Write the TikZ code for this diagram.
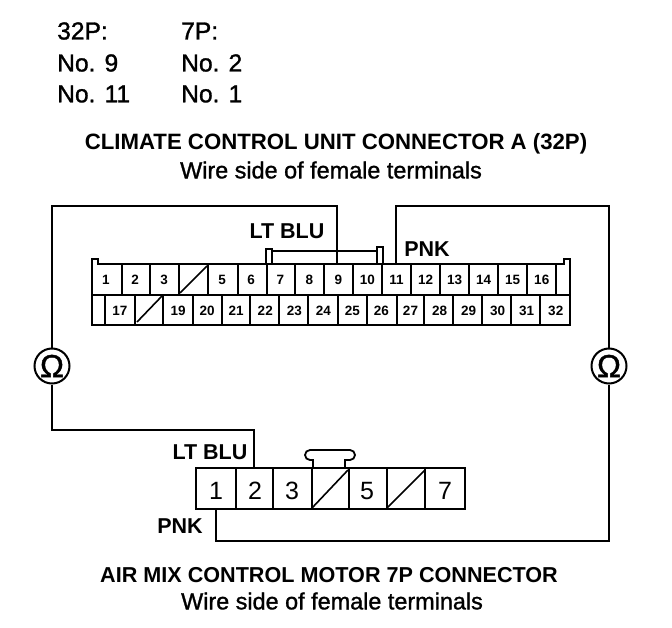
\documentclass[tikz,border=0pt]{standalone}
\usepackage{fontspec}
\setmainfont{Liberation Sans}
\newfontfamily\scanfont[FakeBold=1.2]{Liberation Sans}
\tikzset{
  wire/.style={line width=1.6pt},
  shell/.style={line width=2.8pt},
  divider/.style={line width=2.4pt},
  thindiv/.style={line width=1.6pt},
  pinsmall/.style={inner sep=0pt, anchor=base, font=\fontsize{13.5}{13.5}\selectfont\bfseries},
  pinlarge/.style={inner sep=0pt, anchor=base, font=\fontsize{25}{25}\selectfont},
  colorlabel/.style={inner sep=0pt, font=\fontsize{21.5}{21.5}\selectfont\bfseries},
  heading/.style={inner sep=0pt, font=\fontsize{22.2}{22.2}\selectfont\bfseries},
  headingsmall/.style={inner sep=0pt, font=\fontsize{21.6}{21.6}\selectfont\bfseries},
  subheading/.style={inner sep=0pt, font=\fontsize{23.4}{23.4}\scanfont},
  listing/.style={inner sep=0pt, anchor=west, font=\fontsize{24.6}{24.6}\scanfont},
  meter/.style={draw, circle, line width=2pt, minimum size=35pt, inner sep=0pt, font=\fontsize{32}{32}\scanfont}
}
\begin{document}
\begin{tikzpicture}[x=1pt, y=-1pt]
  \fill[white] (0,0) rectangle (672,628);
  % terminal list
  \node[listing] (headA) at (57,31) {32P:};
  \node[listing] (headB) at (181,31) {7P:};
  \node[listing] (rowAa) at (57,63) {No. 9};
  \node[listing] (rowBa) at (181,63) {No. 2};
  \node[listing] (rowAb) at (57,94) {No. 11};
  \node[listing] (rowBb) at (181,94) {No. 1};
  % headings
  \node[heading] (titleA) at (336,144) {CLIMATE CONTROL UNIT CONNECTOR A (32P)};
  \node[subheading] (subA) at (331,170) {Wire side of female terminals};
  \node[headingsmall] (titleB) at (329,575) {AIR MIX CONTROL MOTOR 7P CONNECTOR};
  \node[subheading] (subB) at (332,601) {Wire side of female terminals};
  % 32P connector
  \draw[shell] (92,325) -- (92,259) -- (98,259) -- (98,264) -- (564,264) -- (564,259) -- (570,259) -- (570,325) -- cycle;
  \draw[shell] (92,295) -- (570,295);
  \draw[line width=1.8pt] (266,264) -- (266,249) -- (272,249) -- (272,264);
  \draw[line width=1.8pt] (272,251) -- (377,251) -- (377,264);
  \draw[line width=1.8pt] (377,264) -- (377,247) -- (383,247) -- (383,264);
  \foreach \x in {122,150,179,208,238,267,295,324,353,382,411,440,469,498,527,556}
    \draw[divider] (\x,264) -- (\x,295);
  \foreach \x in {105,135,163,193,222,250,279,308,338,367,397,424,453,482,511,540}
    \draw[divider] (\x,295) -- (\x,325);
  \foreach \i in {1,2,3,5,6,7,8,9,10,11,12,13,14,15,16}
    \node[pinsmall] (top\i) at ({106+29.05*(\i-1)},285) {\i};
  \foreach \i in {17,19,20,21,22,23,24,25,26,27,28,29,30,31,32}
    \node[pinsmall] (bot\i) at ({120+29.05*(\i-17)},316) {\i};
  \draw[thindiv] (180,293) -- (207,266);
  \draw[thindiv] (137,322) -- (162,296);
  % 7P connector
  \draw[shell] (196,468) rectangle (465,509);
  \foreach \x in {236,273,312,349,387,425}
    \draw[thindiv] (\x,468) -- (\x,509);
  \draw[thindiv] (312,508) -- (348,470);
  \draw[thindiv] (387,508) -- (425,470);
  \draw[line width=1.8pt] (313,468) -- (313,460) -- (310,460) to[out=180, in=270] (305,455) to[out=90, in=180] (310,450)
    -- (350,450) to[out=0, in=90] (355,455) to[out=270, in=0] (350,460) -- (345,460) -- (345,468);
  \foreach \i/\x in {1/216,2/255,3/292,5/367,7/445}
    \node[pinlarge] (pin\i) at (\x,499) {\i};
  % wires
  \coordinate (wireA) at (337,264);
  \coordinate (wireB) at (396,264);
  \coordinate (wireC) at (254,468);
  \coordinate (wireD) at (216,509);
  \node[meter] (ohmL) at (52,366) {Ω};
  \node[meter] (ohmR) at (609,366) {Ω};
  \draw[wire] (wireA) |- (52,206) -- (ohmL);
  \draw[wire] (ohmL) -- (52,430) -| (wireC);
  \draw[wire] (wireB) |- (609,206) -- (ohmR);
  \draw[wire] (ohmR) -- (609,541) -| (wireD);
  % wire colours
  \node[colorlabel] (bluA) at (287,231) {LT BLU};
  \node[colorlabel] (pnkA) at (427,249) {PNK};
  \node[colorlabel] (bluB) at (210,452) {LT BLU};
  \node[colorlabel] (pnkB) at (180,526) {PNK};
\end{tikzpicture}
\end{document}
